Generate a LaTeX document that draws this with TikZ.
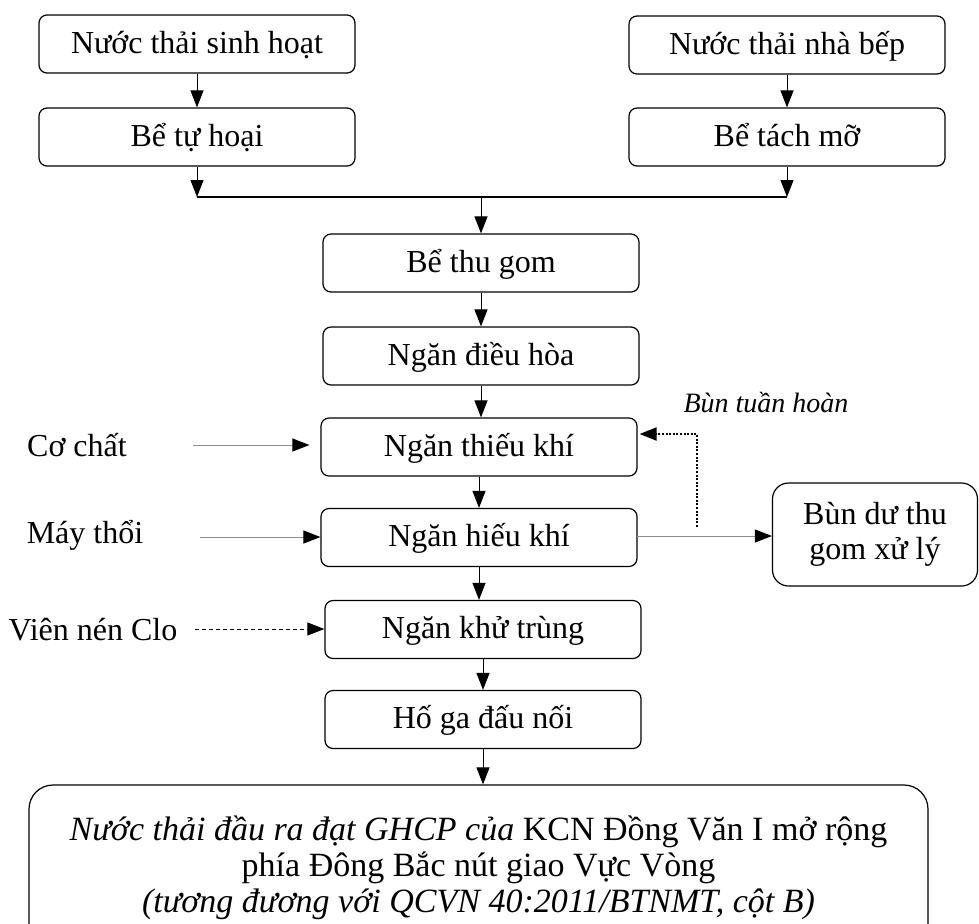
\documentclass[tikz,border=0pt]{standalone}
\usepackage{fontspec}
\setmainfont{Liberation Serif}
\usepackage{xcolor}
\usepackage{tikz}
\usetikzlibrary{positioning,calc,arrows.meta}
\definecolor{lgrey}{HTML}{8C8C8C}

\begin{document}
\begin{tikzpicture}[x=0.5pt, y=-0.5pt, >=Triangle,
  box/.style={draw, line width=0.6pt, rounded corners=4pt, align=center,
              minimum width=158pt, minimum height=29pt, inner sep=2pt,
              text height=11pt, text depth=2pt,
              font=\fontsize{16}{19}\selectfont},
  lbl/.style={inner sep=0pt, font=\fontsize{16}{19}\selectfont},
  arr/.style={-{Triangle[length=8.5pt,width=6.5pt]}, line width=0.5pt},
  feed/.style={-{Triangle[length=8.5pt,width=6.5pt,color=black]},
               line width=0.5pt, draw=lgrey},
  clo/.style={arr, dash pattern=on 2pt off 1.5pt},
  recyc/.style={arr, line width=1pt, dash pattern=on 1pt off 0.8pt}]
  \useasboundingbox (0,0) rectangle (979,923);
  % --- two sources (top rows)
  \node[box] (sh)  at (197,44)  {Nước thải sinh hoạt};
  \node[box] (tuh) at (197,137) {Bể tự hoại};
  \node[box] (nb)  at (787,45)  {Nước thải nhà bếp};
  \node[box] (tm)  at (787,137) {Bể tách mỡ};
  \coordinate (jl) at (197,197);
  \coordinate (jr) at (787,197);
  \coordinate (jc) at (481,197);
  % --- treatment line (middle column)
  \node[box] (gom)  at (481,263)   {Bể thu gom};
  \node[box] (dh)   at (481,356)   {Ngăn điều hòa};
  \node[box] (tk)   at (479,447)   {Ngăn thiếu khí};
  \node[box] (hk)   at (479,537.5) {Ngăn hiếu khí};
  \node[box] (kt)   at (483,629.5) {Ngăn khử trùng};
  \node[box] (hg)   at (483,719.5) {Hố ga đấu nối};
  \node[box, rounded corners=12pt, minimum width=449.5pt, minimum height=83pt,
        text height=, text depth=,
        font=\fontsize{17}{18}\selectfont] (out) at (478.5,868)
        {\textit{Nước thải đầu ra đạt GHCP của} KCN Đồng Văn I mở rộng\\
         phía Đông Bắc nút giao Vực Vòng\\
         \textit{(tương đương với QCVN 40:2011/BTNMT, cột B)}};
  % --- side inputs and sludge
  \node[lbl] (coc) at (77,445)  {Cơ chất};
  \node[lbl] (mt)  at (85,535)  {Máy thổi};
  \node[lbl] (vc)  at (93,630)  {Viên nén Clo};
  \coordinate (coc0) at (193,445);
  \coordinate (mt0)  at (200,537);
  \coordinate (vc0)  at (195,629);
  \node[box, rounded corners=8pt, minimum width=102.5pt, minimum height=51.5pt,
        text height=, text depth=,
        font=\fontsize{16}{17.5}\selectfont] (bd) at (875,534.5) {Bùn dư thu\\gom xử lý};
  \node[lbl, font=\itshape\fontsize{14}{16}\selectfont] (bth) at (766,403) {Bùn tuần hoàn};
  \coordinate (rc) at (697,527);
  \coordinate (hke) at (637,536);
  % --- connectors
  \draw[arr] (sh) -- (tuh);
  \draw[arr] (nb) -- (tm);
  \draw[arr] (tuh.south) -- (jl);
  \draw[arr] (tm.south) -- (jr);
  \draw[line width=1.3pt] (jl) -- (jr);
  \draw[arr] (jc) -- (gom);
  \draw[arr] (gom) -- (dh);
  \draw[arr] (dh.south) -- (dh.south |- tk.north);
  \draw[arr] (tk) -- (hk);
  \draw[arr] (hk.south) -- (hk.south |- kt.north);
  \draw[arr] (kt) -- (hg);
  \draw[arr] (hg.south) -- (hg.south |- out.north);
  \draw[feed] (coc0) -- ($(tk.west)+(-11,-2)$);
  \draw[feed] (mt0) -- (mt0 -| hk.west);
  \draw[clo] (vc0) -- (vc0 -| kt.west);
  \draw[feed] (hke) -- (hke -| bd.west);
  \draw[recyc] (rc) |- ($(tk.east)+(2,-13)$);
\end{tikzpicture}
\end{document}
